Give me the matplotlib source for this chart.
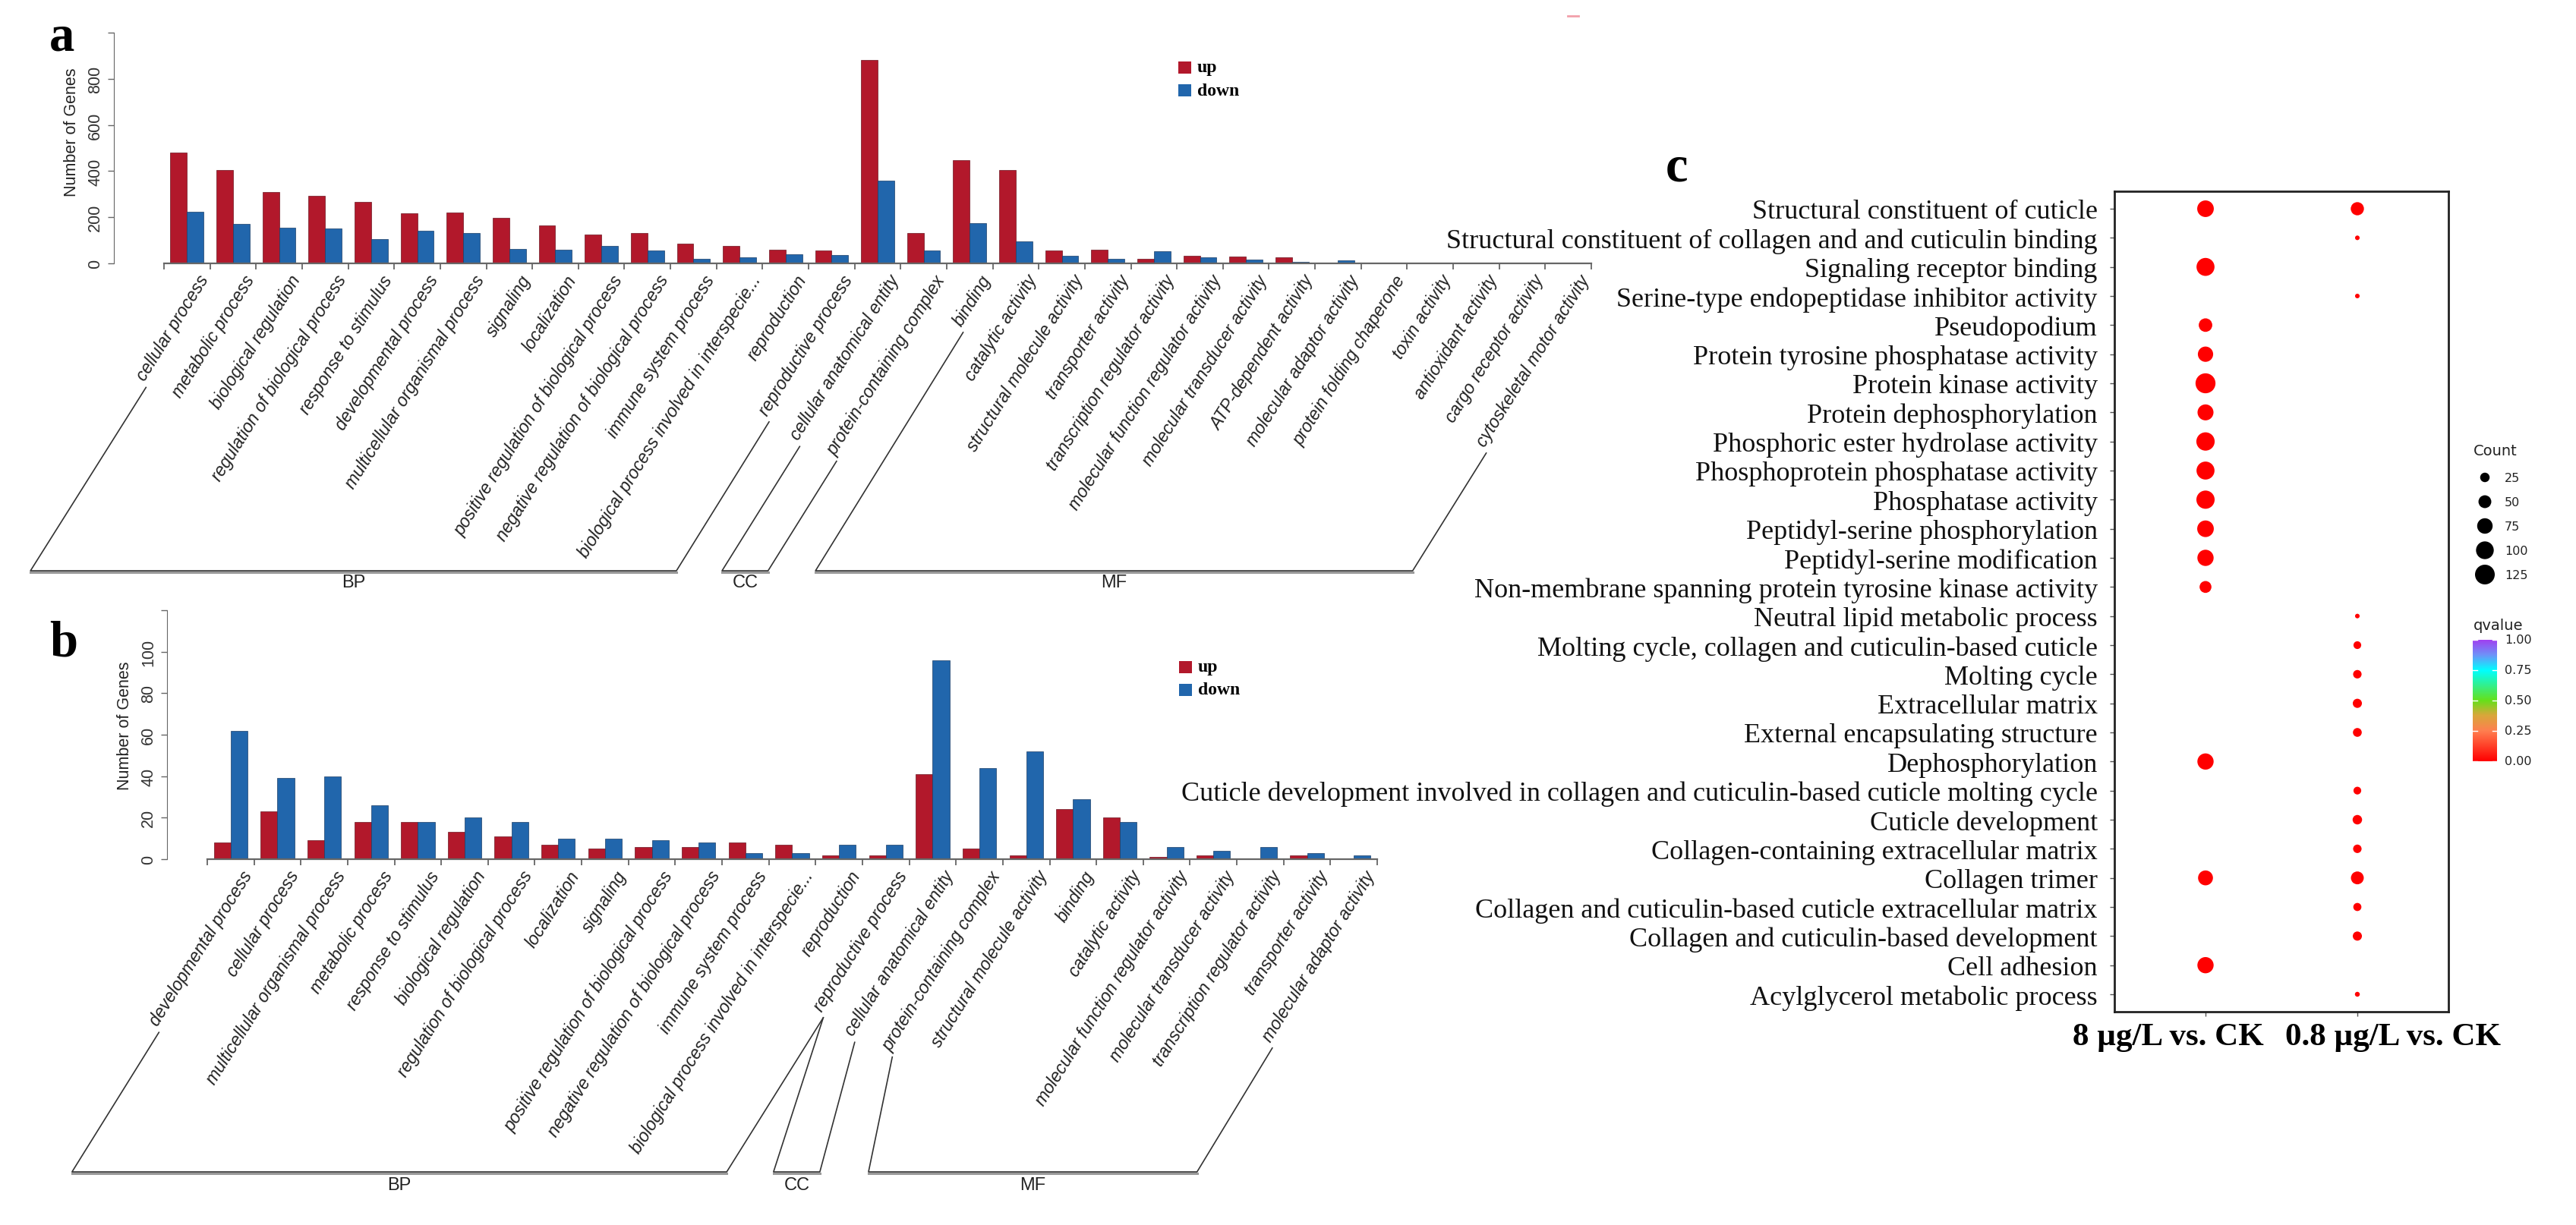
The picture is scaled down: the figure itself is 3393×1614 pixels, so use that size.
import numpy as np
import matplotlib
matplotlib.use("Agg")
import matplotlib.pyplot as plt
from matplotlib.lines import Line2D
from matplotlib.patches import Rectangle
from matplotlib.colors import LinearSegmentedColormap
from matplotlib.transforms import offset_copy, IdentityTransform

W, H, DPI = 3393, 1615, 100
RED = "#B2182B"
BLUE = "#2166AC"
LAB_SIZE = 16.5
LAB_ROT = 58

# ---- panel a: GO classification, all DEGs ----
a_bp_terms = ["cellular process", "metabolic process", "biological regulation",
              "regulation of biological process", "response to stimulus",
              "developmental process", "multicellular organismal process", "signaling",
              "localization", "positive regulation of biological process",
              "negative regulation of biological process", "immune system process",
              "biological process involved in interspecie...", "reproduction",
              "reproductive process"]
a_cc_terms = ["cellular anatomical entity", "protein-containing complex"]
a_mf_terms = ["binding", "catalytic activity", "structural molecule activity",
              "transporter activity", "transcription regulator activity",
              "molecular function regulator activity", "molecular transducer activity",
              "ATP-dependent activity", "molecular adaptor activity",
              "protein folding chaperone", "toxin activity", "antioxidant activity",
              "cargo receptor activity", "cytoskeletal motor activity"]
a_up = [481, 403, 309, 293, 265, 218, 222, 199, 165, 125, 130, 87, 76, 58, 57,
        880, 133,
        446, 404, 55, 58, 20, 34, 30, 25, 3, 1, 1, 1, 1, 1]
a_down = [225, 171, 156, 152, 104, 142, 131, 64, 58, 75, 57, 20, 25, 38, 37,
          357, 55,
          174, 95, 34, 20, 52, 26, 18, 8, 14, 2, 1, 2, 1, 1]

# ---- panel b ----
b_bp_terms = ["developmental process", "cellular process", "multicellular organismal process",
              "metabolic process", "response to stimulus", "biological regulation",
              "regulation of biological process", "localization", "signaling",
              "positive regulation of biological process",
              "negative regulation of biological process", "immune system process",
              "biological process involved in interspecie...", "reproduction",
              "reproductive process"]
b_cc_terms = ["cellular anatomical entity", "protein-containing complex"]
b_mf_terms = ["structural molecule activity", "binding", "catalytic activity",
              "molecular function regulator activity", "molecular transducer activity",
              "transcription regulator activity", "transporter activity",
              "molecular adaptor activity"]
b_up = [8, 23, 9, 18, 18, 13, 11, 7, 5, 6, 6, 8, 7, 2, 2,
        41, 5,
        2, 24, 20, 1, 2, 0, 2, 0]
b_down = [62, 39, 40, 26, 18, 20, 18, 10, 10, 9, 8, 3, 3, 7, 7,
          96, 44,
          52, 29, 18, 6, 4, 6, 3, 2]

# ---- panel c: enrichment dot plot ----
c_terms = ["Structural constituent of cuticle",
           "Structural constituent of collagen and and cuticulin binding",
           "Signaling receptor binding",
           "Serine-type endopeptidase inhibitor activity",
           "Pseudopodium",
           "Protein tyrosine phosphatase activity",
           "Protein kinase activity",
           "Protein dephosphorylation",
           "Phosphoric ester hydrolase activity",
           "Phosphoprotein phosphatase activity",
           "Phosphatase activity",
           "Peptidyl-serine phosphorylation",
           "Peptidyl-serine modification",
           "Non-membrane spanning protein tyrosine kinase activity",
           "Neutral lipid metabolic process",
           "Molting cycle, collagen and cuticulin-based cuticle",
           "Molting cycle",
           "Extracellular matrix",
           "External encapsulating structure",
           "Dephosphorylation",
           "Cuticle development involved in collagen and cuticulin-based cuticle molting cycle",
           "Cuticle development",
           "Collagen-containing extracellular matrix",
           "Collagen trimer",
           "Collagen and cuticulin-based cuticle extracellular matrix",
           "Collagen and cuticulin-based development",
           "Cell adhesion",
           "Acylglycerol metabolic process"]
c_groups = ["8 µg/L vs. CK", "0.8 µg/L vs. CK"]
c_count_8 = [87, None, 103, None, 56, 73, 128, 80, 107, 103, 106, 87, 83, 42,
             None, None, None, None, None, 83, None, None, None, 69, None, None, 83, None]
c_count_08 = [53, 2, None, 2, None, None, None, None, None, None, None, None, None, None,
              2, 15, 19, 23, 21, None, 15, 25, 19, 50, 17, 23, None, 3]
c_q_8 = [0.0, None, 0.0, None, 0.0, 0.0, 0.0, 0.0, 0.0, 0.0, 0.0, 0.0, 0.0, 0.0,
         None, None, None, None, None, 0.0, None, None, None, 0.0, None, None, 0.0, None]
c_q_08 = [0.0, 0.0, None, 0.0, None, None, None, None, None, None, None, None, None, None,
          0.0, 0.0, 0.0, 0.0, 0.0, None, 0.0, 0.0, 0.0, 0.0, 0.0, 0.0, None, 0.0]
count_breaks = [25, 50, 75, 100, 125]
q_breaks = [0.0, 0.25, 0.5, 0.75, 1.0]

fig = plt.figure(figsize=(W / DPI, H / DPI), dpi=DPI)
fig.patch.set_facecolor("white")


def px_axes(left, top, right, bottom):
    return fig.add_axes([left / W, 1 - bottom / H, (right - left) / W, (bottom - top) / H])


def bar_panel(ax, terms, up, down, ymax, ystep):
    n = len(terms)
    x = np.arange(n)
    bw = 0.36
    ax.bar(x - bw / 2, up, bw, color=RED, edgecolor="#6b1520", linewidth=0.5)
    ax.bar(x + bw / 2, down, bw, color=BLUE, edgecolor="#1a3d66", linewidth=0.5)
    ax.set_ylim(0, ymax)
    ticks = np.arange(0, ymax + 1, ystep)
    ax.set_yticks(ticks)
    ax.set_yticklabels([str(int(t)) if t < ymax else "" for t in ticks], rotation=90,
                       va="center", fontsize=15.5, family="Liberation Sans", color="#333333")
    ax.set_xticks(np.arange(n + 1) - 0.5)
    ax.tick_params(axis="x", length=6, width=1.3, color="#666666", labelbottom=False)
    ax.tick_params(axis="y", length=6, width=1.0, color="#666666", pad=4)
    for s in ("top", "right"):
        ax.spines[s].set_visible(False)
    ax.spines["left"].set_bounds(0, ymax)
    ax.spines["left"].set_color("#666666")
    ax.spines["bottom"].set_bounds(-0.5, n - 0.5)
    ax.spines["bottom"].set_color("#666666")
    ax.spines["bottom"].set_linewidth(1.6)
    ax.patch.set_alpha(0)
    tr = offset_copy(ax.transData, fig=fig, x=23, y=-17, units="dots")
    labels = []
    for i, t in enumerate(terms):
        labels.append(ax.text(i, 0, t, transform=tr, rotation=LAB_ROT, rotation_mode="anchor",
                              ha="right", va="center", fontsize=LAB_SIZE, style="italic",
                              family="Liberation Sans", color="#222222", clip_on=False))
    return labels


def brackets(ax, labels, spans, tops, bottom_px, names, name_px):
    r = fig.canvas.get_renderer()
    th = np.deg2rad(LAB_ROT)
    h = LAB_SIZE / 72 * DPI * 1.05
    yb = H - bottom_px
    for (xl, xr), (kl, kr), name in zip(spans, tops, names):
        pl = ax.transData.transform((xl, 0))[0]
        pr = ax.transData.transform((xr, 0))[0]
        ends = []
        for k in (kl, kr):
            bb = labels[k].get_window_extent(r)
            ends.append((bb.x0 + h * np.sin(th) - 6 * np.cos(th), bb.y0 - 6 * np.sin(th)))
        fig.add_artist(Line2D([pl, pr], [yb - 1.5, yb - 1.5], transform=IdentityTransform(),
                              color="#9a9a9a", lw=2.2))
        fig.add_artist(Line2D([ends[0][0], pl, pr, ends[1][0]], [ends[0][1], yb, yb, ends[1][1]],
                              transform=IdentityTransform(), color="#333333", lw=1.2))
        fig.text((pl + pr) / 2 / W, 1 - name_px / H, name, ha="center", va="center",
                 fontsize=17, family=["Liberation Sans Narrow", "Liberation Sans"], color="#222222")


def bar_legend(x_sq, y_up, y_down):
    for y, col, lab in ((y_up, RED, "up"), (y_down, BLUE, "down")):
        fig.add_artist(Rectangle((x_sq / W, 1 - (y + 8) / H), 17 / W, 16 / H,
                                 transform=fig.transFigure, facecolor=col, edgecolor="none"))
        fig.text((x_sq + 25) / W, 1 - y / H, lab, ha="left", va="center", fontsize=17,
                 fontweight="bold", family="Liberation Serif")


# ---------- panel a ----------
a_terms = a_bp_terms + a_cc_terms + a_mf_terms
unit_a = (2096 - 216) / len(a_terms)
ax_a = px_axes(150, 44, 2096 + 0.7 * unit_a, 348)
ax_a.set_xlim(-0.5 - 66 / unit_a, len(a_terms) - 0.5 + 0.7)
lab_a = bar_panel(ax_a, a_terms, a_up, a_down, 1000, 200)
fig.text(95 / W, 1 - 174 / H, "Number of Genes", rotation=90, ha="center", va="center",
         fontsize=15.5, family="Liberation Sans", color="#222222")
fig.text(82 / W, 1 - 50 / H, "a", ha="center", va="center", fontsize=48,
         fontweight="bold", family="Liberation Serif")
bar_legend(1552, 90, 120)

# ---------- panel b ----------
b_terms = b_bp_terms + b_cc_terms + b_mf_terms
unit_b = (1814 - 273) / len(b_terms)
ax_b = px_axes(220, 805, 1814 + 0.7 * unit_b, 1133)
ax_b.set_xlim(-0.5 - 53 / unit_b, len(b_terms) - 0.5 + 0.7)
lab_b = bar_panel(ax_b, b_terms, b_up, b_down, 120, 20)
fig.text(165 / W, 1 - 956 / H, "Number of Genes", rotation=90, ha="center", va="center",
         fontsize=15.5, family="Liberation Sans", color="#222222")
fig.text(84 / W, 1 - 848 / H, "b", ha="center", va="center", fontsize=48,
         fontweight="bold", family="Liberation Serif")
bar_legend(1553, 880, 910)

# small stray mark at the top of the figure
fig.add_artist(Line2D([2065 / W, 2079 / W], [1 - 22 / H, 1 - 22 / H], transform=fig.transFigure,
                      color="#F2A0AA", lw=2))

fig.canvas.draw()
brackets(ax_a, lab_a, [(-3.40, 10.63), (11.62, 12.62), (13.65, 26.62)],
         [(0, 14), (15, 16), (17, 30)], 753, ["BP", "CC", "MF"], 768)
brackets(ax_b, lab_b, [(-3.39, 10.6), (11.6, 12.59), (13.63, 20.65)],
         [(0, 14), (14, 15), (16, 24)], 1545, ["BP", "CC", "MF"], 1562)

# ---------- panel c ----------
cmap = LinearSegmentedColormap.from_list(
    "q", [(0.0, "#FF0000"), (0.25, "#FF7F50"), (0.38, "#D8A83A"), (0.5, "#66E01A"),
          (0.75, "#00FFFF"), (0.88, "#7090F8"), (1.0, "#A040F0")])


def dot_s(c):
    d_px = np.sqrt(26 + 5.2 * c)
    return (d_px * 72 / DPI) ** 2


ax_c = px_axes(2785, 253, 3225, 1334)
for j, (counts, qs) in enumerate(((c_count_8, c_q_8), (c_count_08, c_q_08))):
    rows = [i for i, v in enumerate(counts) if v is not None]
    ax_c.scatter([j] * len(rows), rows, s=[dot_s(counts[i]) for i in rows],
                 c=[qs[i] for i in rows], cmap=cmap, vmin=0, vmax=1,
                 edgecolors="none", zorder=3)
ax_c.set_xlim(-0.6, 1.6)
ax_c.set_ylim(len(c_terms) - 0.4, -0.6)
ax_c.set_yticks(range(len(c_terms)))
ax_c.set_yticklabels(c_terms, family="Liberation Serif", fontsize=26, color="#111111")
ax_c.set_xticks([0, 1])
ax_c.set_xticklabels([])
ax_c.tick_params(axis="y", length=4, width=1, color="#555555", pad=12)
ax_c.tick_params(axis="x", length=4, width=1, color="#555555")
for s in ax_c.spines.values():
    s.set_linewidth(2)
    s.set_color("#222222")
for xc, lab in zip((2856, 3152), c_groups):
    fig.text(xc / W, 1 - 1367 / H, lab, ha="center", va="center", fontsize=31,
             fontweight="bold", family="Liberation Serif")
fig.text(2209 / W, 1 - 222 / H, "c", ha="center", va="center", fontsize=48,
         fontweight="bold", family="Liberation Serif")

# size legend
ax_l = px_axes(3240, 560, 3393, 1030)
ax_l.set_xlim(3240, 3393)
ax_l.set_ylim(1030, 560)
ax_l.axis("off")
ax_l.text(3258, 594, "Count", fontsize=14, va="center", ha="left", family="DejaVu Sans",
          color="#222222")
for k, c in enumerate(count_breaks):
    y = 630 + k * 32
    ax_l.scatter(3273, y, s=dot_s(c), color="black", edgecolors="none", clip_on=False)
    ax_l.text(3299, y, str(c), fontsize=11.5, va="center", ha="left", family="DejaVu Sans",
              color="#222222")
ax_l.text(3258, 825, "qvalue", fontsize=14, va="center", ha="left", family="DejaVu Sans",
          color="#222222")

# colour bar
ax_cb = px_axes(3257, 844, 3289, 1004)
grad = np.linspace(0, 1, 256).reshape(-1, 1)
ax_cb.imshow(grad, cmap=cmap, aspect="auto", origin="lower", extent=(0, 1, 0, 1))
ax_cb.set_xlim(0, 1)
ax_cb.set_ylim(0, 1)
ax_cb.set_xticks([])
ax_cb.set_yticks([])
for s in ax_cb.spines.values():
    s.set_visible(False)
for q in q_breaks:
    ax_cb.plot([0, 0.2], [q, q], color="white", lw=1)
    ax_cb.plot([0.8, 1], [q, q], color="white", lw=1)
    ax_cb.text(1.31, q, f"{q:.2f}", transform=ax_cb.transData, fontsize=11.5, va="center",
               ha="left", family="DejaVu Sans", color="#222222", clip_on=False)

fig.savefig("out.png", dpi=DPI)
